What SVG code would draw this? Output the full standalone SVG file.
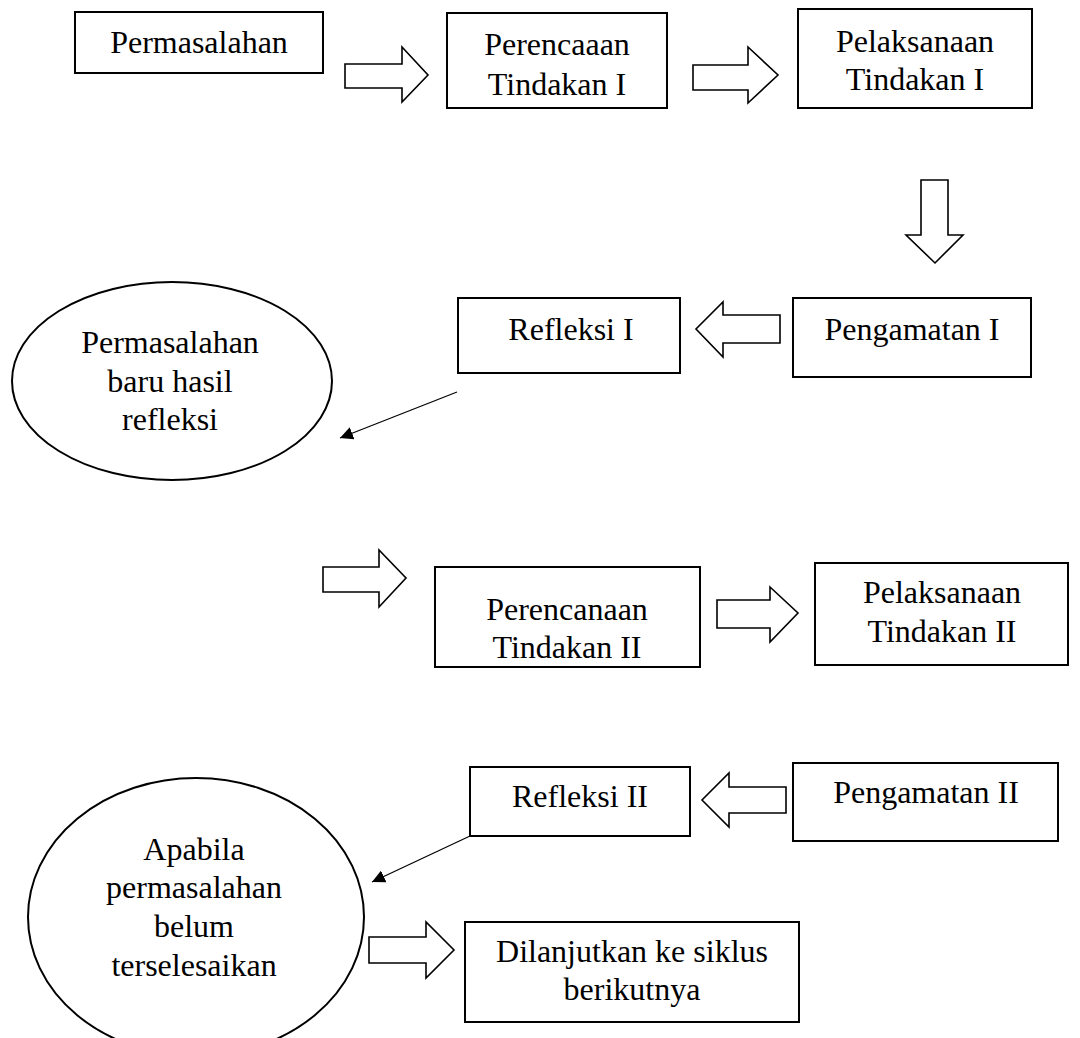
<svg xmlns="http://www.w3.org/2000/svg" width="1080" height="1038" viewBox="0 0 1080 1038">
<style>
.box{fill:#fff;stroke:#000;stroke-width:2}
.blk{fill:none;stroke:#000;stroke-width:1.6;stroke-linejoin:miter}
.ln{stroke:#000;stroke-width:1.2;fill:none}
text{font-family:"Liberation Serif","Times New Roman",serif;font-size:32px;fill:#000;text-anchor:middle}
</style>
<defs>
<marker id="ah" viewBox="0 0 10 10" refX="10" refY="5" markerWidth="13" markerHeight="13" markerUnits="userSpaceOnUse" orient="auto">
<path d="M0,0 L10,5 L0,10 Z" fill="#000"/>
</marker>
</defs>
<rect width="1080" height="1038" fill="#fff"/>
<g id="connectors">
<path class="blk" d="M345,64 H402 V47 L428,75 L402,102 V88 H345 Z"/>
<path class="blk" d="M693,65 H748 V47 L778,75 L748,103 V90 H693 Z"/>
<path class="blk" d="M921,180 H948 V235 H963 L935,263 L906,235 H921 Z"/>
<path class="blk" d="M780,315 H723 V302 L696,329 L723,357 V343 H780 Z"/>
<line class="ln" x1="457" y1="392" x2="340" y2="438" marker-end="url(#ah)"/>
<path class="blk" d="M323,567 H379 V550 L406,578 L379,607 V592 H323 Z"/>
<path class="blk" d="M717,600 H770 V587 L798,613 L770,642 V628 H717 Z"/>
<path class="blk" d="M786,787 H729 V773 L702,800 L729,827 V813 H786 Z"/>
<line class="ln" x1="470" y1="836" x2="372" y2="882" marker-end="url(#ah)"/>
<path class="blk" d="M369,937 H426 V922 L454,950 L426,978 V963 H369 Z"/>
</g>
<g id="n-permasalahan">
<rect class="box" x="75" y="12" width="248" height="61"/>
<text x="199" y="53">Permasalahan</text>
</g>
<g id="n-perencanaan1">
<rect class="box" x="447" y="13" width="220" height="95"/>
<text x="557" y="55">Perencaaan</text>
<text x="557" y="95">Tindakan I</text>
</g>
<g id="n-pelaksanaan1">
<rect class="box" x="798" y="9" width="234" height="99"/>
<text x="915" y="52">Pelaksanaan</text>
<text x="915" y="90">Tindakan I</text>
</g>
<g id="n-pengamatan1">
<rect class="box" x="793" y="298" width="238" height="79"/>
<text x="912" y="340">Pengamatan I</text>
</g>
<g id="n-refleksi1">
<rect class="box" x="458" y="298" width="222" height="75"/>
<text x="571" y="340">Refleksi I</text>
</g>
<g id="n-masalahbaru">
<ellipse class="box" cx="172" cy="381" rx="160" ry="99"/>
<text x="170" y="353">Permasalahan</text>
<text x="170" y="392">baru hasil</text>
<text x="170" y="430">refleksi</text>
</g>
<g id="n-perencanaan2">
<rect class="box" x="435" y="567" width="265" height="100"/>
<text x="567" y="620">Perencanaan</text>
<text x="567" y="658">Tindakan II</text>
</g>
<g id="n-pelaksanaan2">
<rect class="box" x="815" y="563" width="253" height="102"/>
<text x="942" y="603">Pelaksanaan</text>
<text x="942" y="642">Tindakan II</text>
</g>
<g id="n-pengamatan2">
<rect class="box" x="793" y="763" width="265" height="78"/>
<text x="926" y="803">Pengamatan II</text>
</g>
<g id="n-refleksi2">
<rect class="box" x="470" y="767" width="220" height="69"/>
<text x="580" y="807">Refleksi II</text>
</g>
<g id="n-apabila">
<ellipse class="box" cx="196" cy="917" rx="168" ry="139"/>
<text x="194" y="860">Apabila</text>
<text x="194" y="898">permasalahan</text>
<text x="194" y="937">belum</text>
<text x="194" y="976">terselesaikan</text>
</g>
<g id="n-dilanjutkan">
<rect class="box" x="465" y="922" width="334" height="100"/>
<text x="632" y="962">Dilanjutkan ke siklus</text>
<text x="632" y="1000">berikutnya</text>
</g>
</svg>
